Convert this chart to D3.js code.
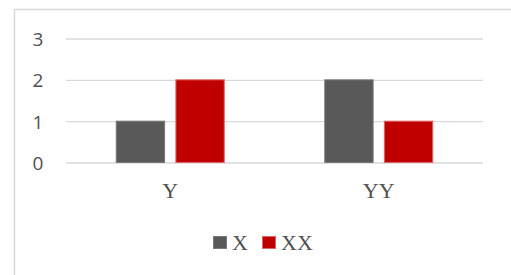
<!DOCTYPE html>
<html><head><meta charset="utf-8">
<script src="https://cdn.jsdelivr.net/npm/d3@7"></script>
<style>body{margin:0;background:#fff}svg{display:block}</style>
</head><body>
<script>
const categories = ["Y", "YY"];
const seriesNames = ["X", "XX"];
const seriesX = [1, 2];
const seriesXX = [2, 1];
const yTicks = [0, 1, 2, 3];

const W = 511, H = 275;
const fills = ["#595959", "#C00000"];
const strokes = ["#7a7a7a", "#e06666"];
const svg = d3.select("body").append("svg").attr("width", W).attr("height", H);

// outer chart border (partially cropped)
svg.append("path").attr("d", `M14.5,${H} V9.5 H${W}`).attr("fill", "none")
  .attr("stroke", "#d9d9d9").attr("stroke-width", 1.5);

const x0 = d3.scaleBand().domain(categories).range([66, 483]).paddingInner(0).paddingOuter(0);
const y = d3.scaleLinear().domain([0, 3]).range([162.5, 38.5]);

// gridlines
const yAxis = d3.axisLeft(y).tickValues(yTicks).tickSize(-(483 - 66)).tickFormat(d3.format("d"));
const gy = svg.append("g").attr("transform", "translate(66,0)").call(yAxis);
gy.select(".domain").remove();
gy.selectAll(".tick line").attr("stroke", "#d9d9d9").attr("stroke-width", 1.3);
gy.selectAll(".tick text").attr("x", -28).attr("dy", "0.36em").attr("fill", "#505050")
  .style("font-family", "'Open Sans', 'Liberation Sans', sans-serif").style("font-size", "19px")
  .attr("text-anchor", "middle");

const data = [seriesX, seriesXX];
const bw = x0.bandwidth();
const barW = bw * 0.232, innerGap = bw * 0.054;
data.forEach((vals, si) => {
  svg.append("g").selectAll("rect").data(categories).join("rect")
    .attr("x", (c) => x0(c) + bw / 2 - barW - innerGap / 2 + si * (barW + innerGap))
    .attr("y", (c, i) => y(vals[i]))
    .attr("width", barW)
    .attr("height", (c, i) => y(0) - y(vals[i]))
    .attr("fill", fills[si]).attr("stroke", strokes[si]).attr("stroke-width", 1);
});

// x axis labels
const xAxis = d3.axisBottom(x0).tickSize(0).tickPadding(0);
const gx = svg.append("g").attr("transform", `translate(0,${y(0)})`).call(xAxis);
gx.select(".domain").remove();
gx.selectAll(".tick text").attr("y", 35).attr("dy", 0).attr("fill", "#505050")
  .style("font-family", "'Liberation Serif', 'Times New Roman', serif").style("font-size", "22px");

// legend
const legX = [213, 262];
const lg = svg.append("g");
seriesNames.forEach((n, i) => {
  lg.append("rect").attr("x", legX[i] + 0.5).attr("y", 236.5).attr("width", 13).attr("height", 12)
    .attr("fill", fills[i]).attr("stroke", strokes[i]).attr("stroke-width", 1);
  lg.append("text").attr("x", legX[i] + 19).attr("y", 250).text(n).attr("fill", "#505050")
    .style("font-family", "'Liberation Serif', 'Times New Roman', serif").style("font-size", "22px");
});
</script>
</body></html>
